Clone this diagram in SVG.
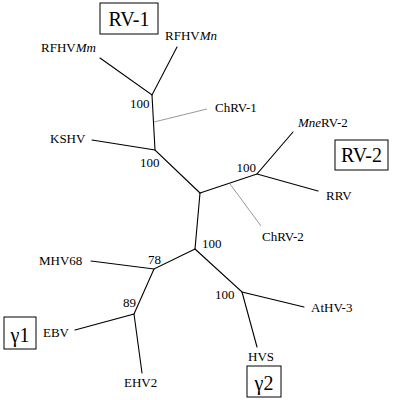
<svg xmlns="http://www.w3.org/2000/svg" width="402" height="400" viewBox="0 0 402 400">
<style>
text{font-family:"Liberation Serif","Times New Roman",serif;fill:#000}
.lab{font-size:13px}
.bs{font-size:13px}
.big{font-size:20px}
.br{stroke:#000;stroke-width:1.1;fill:none;stroke-linecap:round}
.gr{stroke:#999;stroke-width:1;fill:none}
.box{fill:#fff;stroke:#000;stroke-width:1}
</style>
<rect width="402" height="400" fill="#fff"/>
<g id="connectors">
<path class="br" d="M100,58 L152,95 L177,47"/>
<path class="br" d="M152,95 L155,150"/>
<path class="gr" d="M154,122 L207,109"/>
<path class="br" d="M92,140 L155,150 L200,193"/>
<path class="br" d="M200,193 L257,174"/>
<path class="gr" d="M230,184 L261,226"/>
<path class="br" d="M293,132 L257,174 L318,191"/>
<path class="br" d="M200,193 L195,249"/>
<path class="br" d="M195,249 L154,269 L91,261"/>
<path class="br" d="M154,269 L134,314 L75,330"/>
<path class="br" d="M134,314 L142,373"/>
<path class="br" d="M195,249 L242,292 L304,307"/>
<path class="br" d="M242,292 L257,347"/>
</g>
<g id="RV-1"><rect class="box" x="100" y="3" width="58" height="31"/><text class="big" x="129" y="26" text-anchor="middle">RV-1</text></g>
<g id="RV-2"><rect class="box" x="335" y="140" width="53" height="30"/><text class="big" x="361.5" y="162" text-anchor="middle">RV-2</text></g>
<g id="g1"><rect class="box" x="4" y="317" width="32" height="32"/><text class="big" x="20" y="342" text-anchor="middle">γ1</text></g>
<g id="g2"><rect class="box" x="247" y="366" width="34" height="31"/><text class="big" x="264" y="390" text-anchor="middle">γ2</text></g>
<g id="RFHVMm"><text class="lab" x="41" y="52">RFHV<tspan font-style="italic">Mm</tspan></text></g>
<g id="RFHVMn"><text class="lab" x="165" y="40">RFHV<tspan font-style="italic">Mn</tspan></text></g>
<g id="ChRV-1"><text class="lab" x="215" y="112">ChRV-1</text></g>
<g id="KSHV"><text class="lab" x="50" y="143">KSHV</text></g>
<g id="MneRV-2"><text class="lab" x="298" y="127"><tspan font-style="italic">Mne</tspan>RV-2</text></g>
<g id="RRV"><text class="lab" x="326" y="200">RRV</text></g>
<g id="ChRV-2"><text class="lab" x="262" y="241">ChRV-2</text></g>
<g id="MHV68"><text class="lab" x="39" y="265">MHV68</text></g>
<g id="EBV"><text class="lab" x="43" y="337">EBV</text></g>
<g id="EHV2"><text class="lab" x="124" y="387">EHV2</text></g>
<g id="AtHV-3"><text class="lab" x="311" y="312">AtHV-3</text></g>
<g id="HVS"><text class="lab" x="248" y="361">HVS</text></g>
<g id="bootstrap">
<text class="bs" x="130" y="108">100</text>
<text class="bs" x="140" y="167">100</text>
<text class="bs" x="236.5" y="172">100</text>
<text class="bs" x="202" y="248">100</text>
<text class="bs" x="148" y="264">78</text>
<text class="bs" x="123" y="307">89</text>
<text class="bs" x="215" y="299">100</text>
</g>
</svg>
